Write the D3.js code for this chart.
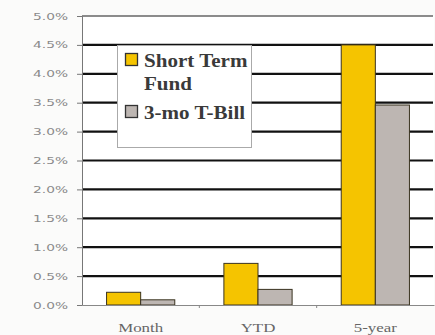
<!DOCTYPE html>
<html><head><meta charset="utf-8">
<script src="https://cdn.jsdelivr.net/npm/d3@7"></script>
<style>body{margin:0;background:#fbfbfa;}svg{display:block;}</style>
</head><body>
<script>
const categories = ["Month", "YTD", "5-year"];
const seriesNames = ["Short Term Fund", "3-mo T-Bill"];
const legendLines = [["Short Term", "Fund"], ["3-mo T-Bill"]];
const fundValues = [0.0022, 0.0072, 0.045];
const tbillValues = [0.0009, 0.0027, 0.0346];
const yTicks = [0, 0.005, 0.01, 0.015, 0.02, 0.025, 0.03, 0.035, 0.04, 0.045, 0.05];
const colors = ["#f5c400", "#bdb6b2"];

const W = 435, H = 335;
const m = {left: 82, right: 1, top: 16, bottom: 30};
const svg = d3.select("body").append("svg").attr("width", W).attr("height", H);
svg.append("rect").attr("x", m.left).attr("y", m.top).attr("width", W - m.left - m.right).attr("height", H - m.top - m.bottom).attr("fill", "#fff");

const x = d3.scaleBand().domain(categories).range([m.left, W - m.right]);
const xs = d3.scaleBand().domain([0, 1]).range([0, x.bandwidth()]).paddingOuter(0.72).paddingInner(0);
const y = d3.scaleLinear().domain([0, 0.05]).range([H - m.bottom, m.top]);

// gridlines
svg.append("g").selectAll("line").data(yTicks.filter(t => t > 0)).join("line")
  .attr("x1", m.left).attr("x2", W - m.right - 1)
  .attr("y1", d => y(d)).attr("y2", d => y(d))
  .attr("stroke", d => d === 0.05 ? "#666" : "#111")
  .attr("stroke-width", d => d === 0.05 ? 1.5 : 2.2);

// y axis
const yAxis = d3.axisLeft(y).tickValues(yTicks).tickFormat(d3.format(".1%")).tickSize(5);
const ga = svg.append("g").attr("transform", `translate(${m.left},0)`).call(yAxis);
ga.select(".domain").attr("stroke", "#777");
ga.selectAll(".tick line").attr("stroke", "#777");
const ySx = 1.45;
ga.selectAll("text").attr("font-family", "DejaVu Sans, sans-serif").attr("font-size", 9.5).attr("fill", "#8a8a8a")
  .attr("x", -14 / ySx).attr("transform", `scale(${ySx},1)`);

// bars
const series = [fundValues, tbillValues];
series.forEach((vals, si) => {
  svg.append("g").selectAll("rect").data(categories).join("rect")
    .attr("x", (c) => x(c) + xs(si))
    .attr("width", xs.bandwidth())
    .attr("y", (c, i) => y(vals[i]))
    .attr("height", (c, i) => y(0) - y(vals[i]))
    .attr("fill", colors[si])
    .attr("stroke", "#3a3320").attr("stroke-width", 1);
});

// x axis
const xAxis = d3.axisBottom(x).tickSize(0).tickPadding(18);
const gx = svg.append("g").attr("transform", `translate(0,${y(0)})`).call(xAxis);
gx.select(".domain").attr("stroke", "#888");
gx.selectAll("text").attr("font-family", "Liberation Serif, serif").attr("font-size", 12.5).attr("fill", "#666")
  .attr("transform", "scale(1.35,1)");
// minor ticks between categories
svg.append("g").selectAll("line").data(categories.slice(1)).join("line")
  .attr("x1", c => x(c)).attr("x2", c => x(c))
  .attr("y1", y(0)).attr("y2", y(0) + 3).attr("stroke", "#888");

// legend
const lg = svg.append("g");
lg.append("rect").attr("x", 117.5).attr("y", 45.5).attr("width", 134).attr("height", 102)
  .attr("fill", "#fff").attr("stroke", "#aaa").attr("stroke-width", 1);
const sy = [53, 105];
const lSx = 1.17;
legendLines.forEach((lines, i) => {
  lg.append("rect").attr("x", 125.5).attr("y", sy[i] + 0.5).attr("width", 12).attr("height", 12)
    .attr("fill", colors[i]).attr("stroke", "#333").attr("stroke-width", 1.3);
  lines.forEach((t, j) => {
    lg.append("text").attr("x", 144 / lSx).attr("y", sy[i] + 14 + j * 23).text(t)
      .attr("transform", `scale(${lSx},1)`)
      .attr("font-family", "Liberation Serif, serif").attr("font-weight", "bold")
      .attr("font-size", 18).attr("fill", "#3a3a3a");
  });
});
</script>
</body></html>
